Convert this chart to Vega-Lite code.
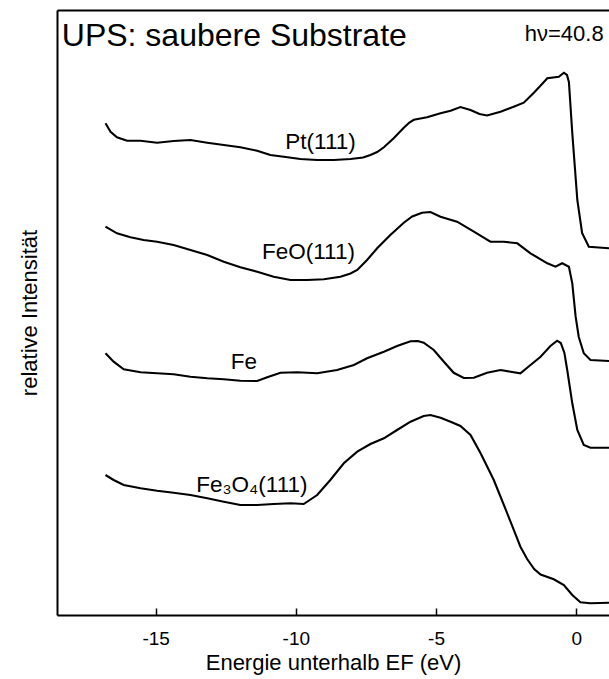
{
  "$schema": "https://vega.github.io/schema/vega-lite/v6.json",
  "width": 552,
  "height": 605,
  "autosize": {"type": "none"},
  "padding": {"left": 57, "top": 10, "right": 0, "bottom": 64},
  "background": "white",
  "config": {"view": {"stroke": null}, "font": "Liberation Sans"},
  "datasets": {
    "spectra": [
      {"sample":"Pt","E":-16.79,"I":491.7},{"sample":"Pt","E":-16.61,"I":483.3},{"sample":"Pt","E":-16.38,"I":477.7},{"sample":"Pt","E":-16.02,"I":474.3},{"sample":"Pt","E":-15.54,"I":474.3},{"sample":"Pt","E":-14.95,"I":472.3},{"sample":"Pt","E":-14.36,"I":474},{"sample":"Pt","E":-13.76,"I":475},{"sample":"Pt","E":-13.16,"I":472.3},{"sample":"Pt","E":-12.57,"I":470},{"sample":"Pt","E":-11.98,"I":467.7},{"sample":"Pt","E":-11.38,"I":464.3},{"sample":"Pt","E":-10.91,"I":460},{"sample":"Pt","E":-10.43,"I":458.3},{"sample":"Pt","E":-9.84,"I":456},{"sample":"Pt","E":-9.24,"I":455},{"sample":"Pt","E":-8.65,"I":455},{"sample":"Pt","E":-8.05,"I":456},{"sample":"Pt","E":-7.6,"I":457.5},{"sample":"Pt","E":-7.34,"I":460},{"sample":"Pt","E":-7.1,"I":463},{"sample":"Pt","E":-6.86,"I":467.7},{"sample":"Pt","E":-6.51,"I":476.7},{"sample":"Pt","E":-6.15,"I":487.3},{"sample":"Pt","E":-5.95,"I":492.5},{"sample":"Pt","E":-5.79,"I":495.2},{"sample":"Pt","E":-5.32,"I":497.7},{"sample":"Pt","E":-4.84,"I":501.7},{"sample":"Pt","E":-4.48,"I":504.3},{"sample":"Pt","E":-4.13,"I":508},{"sample":"Pt","E":-3.77,"I":505},{"sample":"Pt","E":-3.45,"I":501},{"sample":"Pt","E":-3.18,"I":499.5},{"sample":"Pt","E":-2.7,"I":503.3},{"sample":"Pt","E":-2.23,"I":508.3},{"sample":"Pt","E":-1.87,"I":512.3},{"sample":"Pt","E":-1.51,"I":522.3},{"sample":"Pt","E":-1.25,"I":530},{"sample":"Pt","E":-1.03,"I":536.7},{"sample":"Pt","E":-0.62,"I":538.3},{"sample":"Pt","E":-0.44,"I":542.3},{"sample":"Pt","E":-0.33,"I":540},{"sample":"Pt","E":-0.26,"I":533},{"sample":"Pt","E":-0.14,"I":482},{"sample":"Pt","E":0.04,"I":415},{"sample":"Pt","E":0.21,"I":382},{"sample":"Pt","E":0.45,"I":368.3},{"sample":"Pt","E":1.17,"I":366.7},

      {"sample":"FeO","E":-16.79,"I":388.3},{"sample":"FeO","E":-16.38,"I":381.7},{"sample":"FeO","E":-15.9,"I":377.7},{"sample":"FeO","E":-15.43,"I":375},{"sample":"FeO","E":-14.95,"I":373.3},{"sample":"FeO","E":-14.36,"I":370},{"sample":"FeO","E":-13.76,"I":365},{"sample":"FeO","E":-13.16,"I":360},{"sample":"FeO","E":-12.57,"I":353.3},{"sample":"FeO","E":-11.98,"I":347.7},{"sample":"FeO","E":-11.38,"I":343.3},{"sample":"FeO","E":-10.79,"I":338.3},{"sample":"FeO","E":-10.19,"I":335},{"sample":"FeO","E":-9.6,"I":335},{"sample":"FeO","E":-9.0,"I":335.7},{"sample":"FeO","E":-8.41,"I":338.3},{"sample":"FeO","E":-8.05,"I":341.5},{"sample":"FeO","E":-7.81,"I":345},{"sample":"FeO","E":-7.46,"I":355},{"sample":"FeO","E":-7.1,"I":366.7},{"sample":"FeO","E":-6.63,"I":380},{"sample":"FeO","E":-6.15,"I":392.3},{"sample":"FeO","E":-5.85,"I":398.5},{"sample":"FeO","E":-5.5,"I":402.3},{"sample":"FeO","E":-5.2,"I":403},{"sample":"FeO","E":-4.84,"I":398.3},{"sample":"FeO","E":-4.25,"I":393.3},{"sample":"FeO","E":-3.65,"I":383.3},{"sample":"FeO","E":-3.06,"I":373.3},{"sample":"FeO","E":-2.58,"I":373.3},{"sample":"FeO","E":-2.1,"I":371.7},{"sample":"FeO","E":-1.63,"I":361.7},{"sample":"FeO","E":-1.03,"I":351.7},{"sample":"FeO","E":-0.74,"I":348.3},{"sample":"FeO","E":-0.5,"I":351.7},{"sample":"FeO","E":-0.26,"I":348.3},{"sample":"FeO","E":-0.14,"I":331.7},{"sample":"FeO","E":-0.02,"I":298.3},{"sample":"FeO","E":0.09,"I":278.3},{"sample":"FeO","E":0.27,"I":261.7},{"sample":"FeO","E":0.51,"I":255},{"sample":"FeO","E":1.17,"I":254},

      {"sample":"Fe","E":-16.79,"I":261.7},{"sample":"Fe","E":-16.5,"I":253.3},{"sample":"Fe","E":-16.14,"I":245.7},{"sample":"Fe","E":-15.54,"I":242.7},{"sample":"Fe","E":-14.95,"I":241.7},{"sample":"Fe","E":-14.36,"I":240.7},{"sample":"Fe","E":-13.76,"I":238.3},{"sample":"Fe","E":-13.16,"I":236.7},{"sample":"Fe","E":-12.57,"I":235.7},{"sample":"Fe","E":-11.98,"I":234.3},{"sample":"Fe","E":-11.38,"I":234},{"sample":"Fe","E":-11.02,"I":237.7},{"sample":"Fe","E":-10.55,"I":242.3},{"sample":"Fe","E":-9.95,"I":242.7},{"sample":"Fe","E":-9.24,"I":241.7},{"sample":"Fe","E":-8.53,"I":245},{"sample":"Fe","E":-7.93,"I":250},{"sample":"Fe","E":-7.46,"I":256.7},{"sample":"Fe","E":-6.86,"I":263.3},{"sample":"Fe","E":-6.39,"I":269},{"sample":"Fe","E":-5.91,"I":273.8},{"sample":"Fe","E":-5.65,"I":274},{"sample":"Fe","E":-5.44,"I":272.3},{"sample":"Fe","E":-5.08,"I":265},{"sample":"Fe","E":-4.72,"I":253.3},{"sample":"Fe","E":-4.37,"I":242.2},{"sample":"Fe","E":-4.01,"I":237},{"sample":"Fe","E":-3.65,"I":237.3},{"sample":"Fe","E":-3.18,"I":242.3},{"sample":"Fe","E":-2.7,"I":245},{"sample":"Fe","E":-2.34,"I":243.3},{"sample":"Fe","E":-1.99,"I":241.7},{"sample":"Fe","E":-1.63,"I":250},{"sample":"Fe","E":-1.27,"I":258.3},{"sample":"Fe","E":-0.92,"I":269},{"sample":"Fe","E":-0.68,"I":274.3},{"sample":"Fe","E":-0.55,"I":272},{"sample":"Fe","E":-0.42,"I":262},{"sample":"Fe","E":-0.32,"I":245},{"sample":"Fe","E":-0.14,"I":211.7},{"sample":"Fe","E":0.04,"I":185},{"sample":"Fe","E":0.27,"I":170},{"sample":"Fe","E":0.51,"I":167.3},{"sample":"Fe","E":1.17,"I":167.3},

      {"sample":"Fe3O4","E":-16.79,"I":140},{"sample":"Fe3O4","E":-16.5,"I":135},{"sample":"Fe3O4","E":-16.14,"I":130},{"sample":"Fe3O4","E":-15.54,"I":126.7},{"sample":"Fe3O4","E":-14.95,"I":124.3},{"sample":"Fe3O4","E":-14.36,"I":122.3},{"sample":"Fe3O4","E":-13.76,"I":120},{"sample":"Fe3O4","E":-13.16,"I":116.7},{"sample":"Fe3O4","E":-12.57,"I":113.3},{"sample":"Fe3O4","E":-11.98,"I":110},{"sample":"Fe3O4","E":-11.38,"I":110},{"sample":"Fe3O4","E":-10.79,"I":111},{"sample":"Fe3O4","E":-10.19,"I":111.7},{"sample":"Fe3O4","E":-9.72,"I":111},{"sample":"Fe3O4","E":-9.24,"I":120},{"sample":"Fe3O4","E":-8.77,"I":135},{"sample":"Fe3O4","E":-8.29,"I":151.7},{"sample":"Fe3O4","E":-7.81,"I":163.3},{"sample":"Fe3O4","E":-7.34,"I":171},{"sample":"Fe3O4","E":-6.86,"I":176.7},{"sample":"Fe3O4","E":-6.39,"I":185},{"sample":"Fe3O4","E":-5.91,"I":193.3},{"sample":"Fe3O4","E":-5.44,"I":199},{"sample":"Fe3O4","E":-5.2,"I":200},{"sample":"Fe3O4","E":-4.84,"I":197.3},{"sample":"Fe3O4","E":-4.48,"I":193.3},{"sample":"Fe3O4","E":-4.13,"I":189},{"sample":"Fe3O4","E":-3.77,"I":180},{"sample":"Fe3O4","E":-3.41,"I":161.7},{"sample":"Fe3O4","E":-2.94,"I":135},{"sample":"Fe3O4","E":-2.46,"I":101.7},{"sample":"Fe3O4","E":-1.99,"I":68.3},{"sample":"Fe3O4","E":-1.75,"I":56},{"sample":"Fe3O4","E":-1.5,"I":46},{"sample":"Fe3O4","E":-1.27,"I":40.5},{"sample":"Fe3O4","E":-0.8,"I":35.7},{"sample":"Fe3O4","E":-0.44,"I":30},{"sample":"Fe3O4","E":-0.14,"I":20},{"sample":"Fe3O4","E":0.15,"I":12.8},{"sample":"Fe3O4","E":0.51,"I":11.7},{"sample":"Fe3O4","E":1.17,"I":12.3}
    ],
    "curveLabels": [
      {"label":"Pt(111)","E":-9.12,"I":473},
      {"label":"FeO(111)","E":-9.55,"I":363},
      {"label":"Fe","E":-11.85,"I":253},
      {"label":"Fe₃O₄(111)","E":-11.57,"I":130}
    ],
    "titleText": [{"label":"UPS: saubere Substrate","E":-18.35,"I":579}],
    "photonText": [{"label":"hν=40.8","E":0.98,"I":581}]
  },
  "resolve": {"axis": {"x": "independent"}},
  "layer": [
    {
      "data": {"name": "spectra"},
      "mark": {"type": "line", "color": "black", "strokeWidth": 2.1, "clip": true},
      "encoding": {
        "x": {"field": "E", "type": "quantitative",
          "scale": {"domain": [-18.52, 1.17], "nice": false, "zero": false},
          "axis": {"orient": "bottom", "values": [-15, -10, -5, 0], "labelExpr": "'' + datum.value",
            "grid": false, "tickSize": -7, "tickWidth": 1.5, "tickColor": "black",
            "domainColor": "black", "domainWidth": 2, "labelFontSize": 19, "labelColor": "black",
            "labelPadding": 21, "title": "Energie unterhalb EF (eV)", "titleFontSize": 22,
            "titleFontWeight": "normal", "titleColor": "black", "titlePadding": 4}},
        "y": {"field": "I", "type": "quantitative",
          "scale": {"domain": [0, 605], "nice": false},
          "axis": {"orient": "left", "labels": false, "ticks": false, "grid": false,
            "domainColor": "black", "domainWidth": 2, "title": "relative Intensität",
            "titleFontSize": 22, "titleFontWeight": "normal", "titleColor": "black", "titlePadding": 16}},
        "detail": {"field": "sample"}
      }
    },
    {
      "data": {"name": "curveLabels"},
      "mark": {"type": "text", "fontSize": 22.5, "align": "center", "baseline": "middle", "color": "black"},
      "encoding": {
        "x": {"field": "E", "type": "quantitative",
          "axis": {"orient": "top", "labels": false, "ticks": false, "grid": false, "title": null,
            "domainColor": "black", "domainWidth": 2}},
        "y": {"field": "I", "type": "quantitative"},
        "text": {"field": "label"}
      }
    },
    {
      "data": {"name": "titleText"},
      "mark": {"type": "text", "fontSize": 32, "align": "left", "baseline": "middle", "color": "black"},
      "encoding": {
        "x": {"field": "E", "type": "quantitative", "axis": null},
        "y": {"field": "I", "type": "quantitative"},
        "text": {"field": "label"}
      }
    },
    {
      "data": {"name": "photonText"},
      "mark": {"type": "text", "fontSize": 22, "align": "right", "baseline": "middle", "color": "black"},
      "encoding": {
        "x": {"field": "E", "type": "quantitative", "axis": null},
        "y": {"field": "I", "type": "quantitative"},
        "text": {"field": "label"}
      }
    }
  ]
}
